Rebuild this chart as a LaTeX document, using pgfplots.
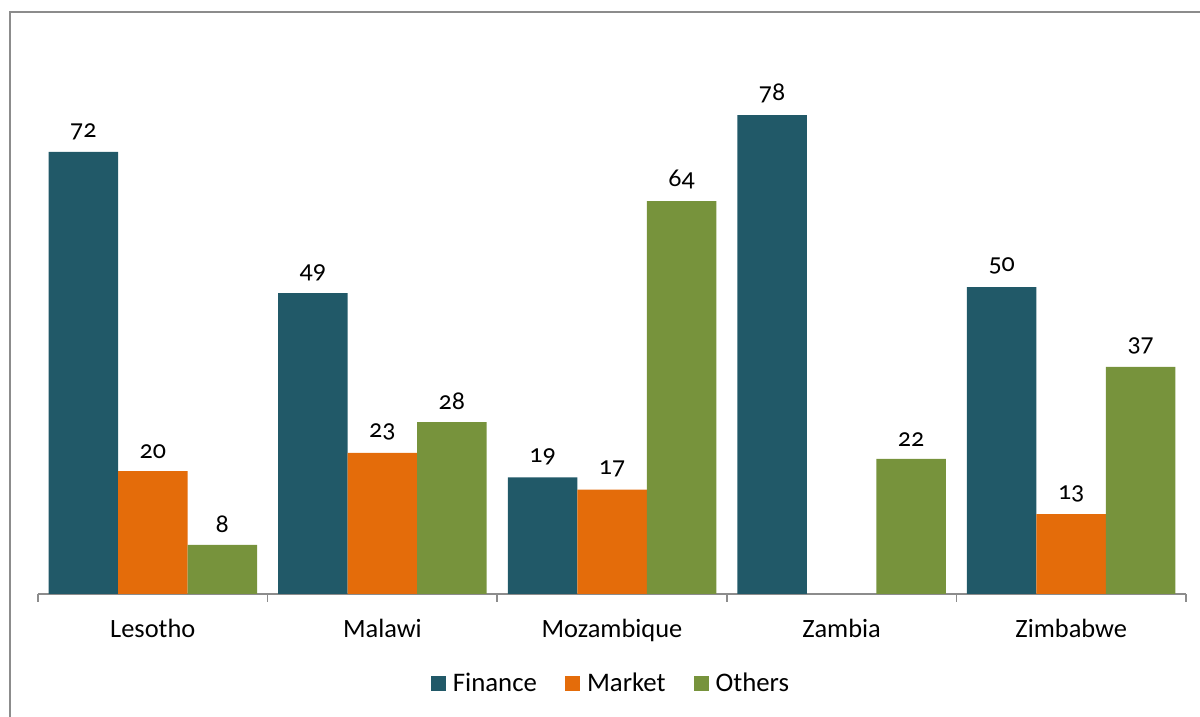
\documentclass[border=0pt]{standalone}
\usepackage{pgfplots}
\pgfplotsset{compat=1.18}
\usepackage{fontspec}
\setmainfont{Carlito}[Numbers=OldStyle]
\definecolor{cfin}{HTML}{215968}
\definecolor{cmkt}{HTML}{E46C0A}
\definecolor{coth}{HTML}{77933C}
\definecolor{cax}{HTML}{8C8C8C}
\begin{document}
\begin{tikzpicture}
\useasboundingbox (0pt,0pt) rectangle (600pt,358.5pt);
\draw[cax,line width=1pt] (5pt,0pt) -- (5pt,352.5pt) -- (600pt,352.5pt);
\begin{axis}[
  at={(19pt,61.5pt)}, anchor=south west,
  scale only axis, width=574pt, height=276.3pt,
  ybar=0pt, bar width=34.75pt,
  xmin=-0.5, xmax=4.5, ymin=0, ymax=90,
  axis y line=none, axis x line*=bottom,
  x axis line style={cax,line width=0.8pt,-},
  xtick={0,1,2,3,4},
  xticklabels={Lesotho,Malawi,Mozambique,Zambia,Zimbabwe},
  major tick length=0pt,
  minor xtick={-0.5,0.5,1.5,2.5,3.5,4.5},
  minor tick length=4pt, tick align=outside,
  minor tick style={cax,line width=0.8pt},
  tick label style={font=\fontsize{13.2}{15}\selectfont, text=black},
  xticklabel style={yshift=-9pt},
  nodes near coords,
  nodes near coords style={font=\fontsize{13}{15}\selectfont, text=black, inner sep=6pt},
  /pgf/number format/assume math mode=true,
  legend style={at={(0.5,-0.163)}, anchor=center, draw=none, legend columns=-1,
    font=\fontsize{13.4}{15}\selectfont,
    /tikz/every even column/.append style={column sep=12pt},
    /tikz/every odd column/.append style={column sep=1.5pt}},
  legend image code/.code={\fill[#1] (0pt,-3.5pt) rectangle (7.5pt,4pt);},
]
\addplot[fill=cfin,draw=none] coordinates {(0,72) (1,49) (2,19) (3,78) (4,50)};
\addplot[fill=cmkt,draw=none] coordinates {(0,20) (1,23) (2,17) (4,13)};
\addplot[fill=coth,draw=none] coordinates {(0,8) (1,28) (2,64) (3,22) (4,37)};
\legend{Finance,Market,Others}
\end{axis}
\end{tikzpicture}
\end{document}
